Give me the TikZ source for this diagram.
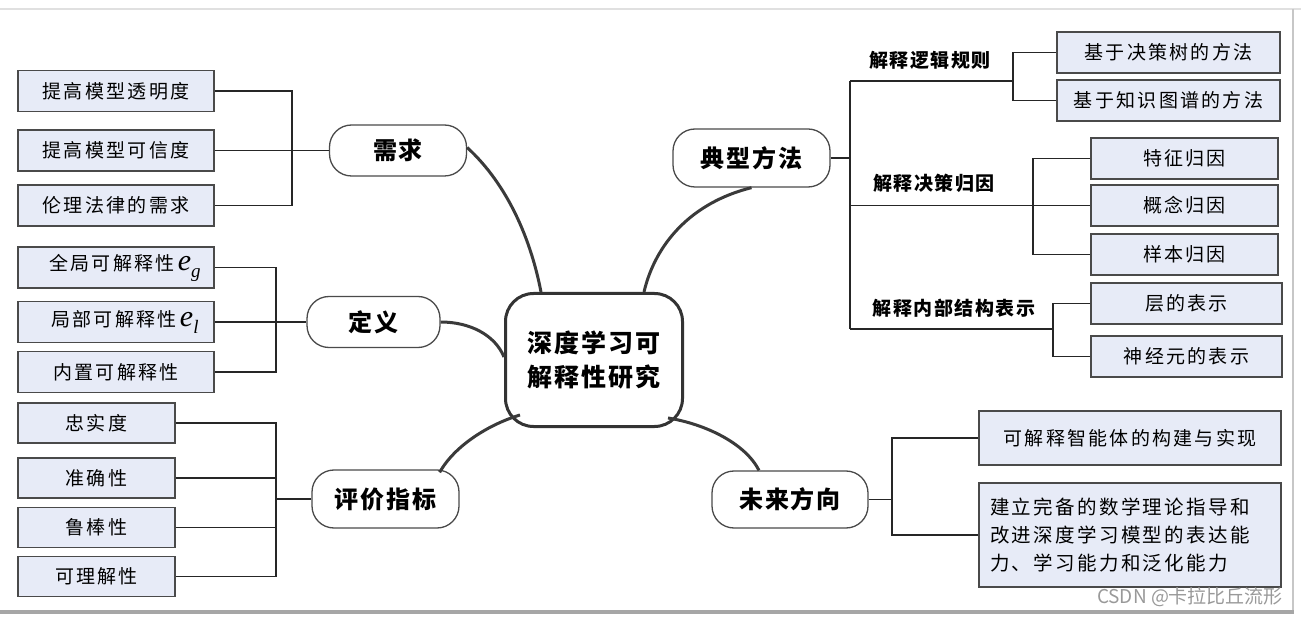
\documentclass[tikz,border=0pt]{standalone}
\usepackage{fontspec}
\setmainfont{Noto Sans CJK SC}
\newfontfamily\boxfont{Noto Sans CJK SC}[LetterSpace=12]
\newfontfamily\hfont{Noto Sans CJK SC}[LetterSpace=8]
\newfontfamily\serifit{Liberation Serif Italic}
\usetikzlibrary{calc}
\definecolor{boxfill}{HTML}{E7EBF7}
\definecolor{boxline}{HTML}{4A4A4A}
\definecolor{curvecol}{HTML}{3A3A3A}
\newcommand{\esub}[1]{{\serifit\fontsize{30}{30}\selectfont e}\raisebox{-7pt}{\serifit\fontsize{19}{19}\selectfont #1}}
\begin{document}
\begin{tikzpicture}[x=1pt,y=-1pt,
 leaf/.style={draw=boxline, fill=boxfill, line width=1.2pt, inner sep=0pt,
   font=\boxfont\fontsize{19}{22}\selectfont, minimum height=41pt},
 topic/.style={draw=boxline, fill=white, line width=1.3pt, rounded corners=22pt,
   inner sep=0pt, font=\hfont\bfseries\fontsize{24}{28}\selectfont},
 sublabel/.style={inner sep=0pt, font=\hfont\bfseries\fontsize{19}{22}\selectfont},
 tie/.style={draw=black!85, line width=1.6pt},
 branch/.style={draw=curvecol, line width=3pt},
]
\useasboundingbox (0,0) rectangle (1301,617);
% frame
\draw[draw=black!12, line width=1.5pt] (0,9) -- (1301,9);
\draw[draw=black!22, line width=1.5pt] (1293,9) -- (1293,612);
\draw[draw=black!35, line width=3.5pt] (0,612) -- (1294,612);

% root
\node[draw=black!80, fill=white, line width=3pt, rounded corners=28pt, inner sep=0pt,
  minimum width=177pt, minimum height=133pt, align=center,
  font=\hfont\bfseries\fontsize{25}{34}\selectfont] (root) at (594,360) {深度学习可\\解释性研究};

% topics
\node[topic, minimum width=137pt, minimum height=51pt] (n1) at (398,150.5) {需求};
\node[topic, minimum width=133pt, minimum height=51pt] (n2) at (373.5,322) {定义};
\node[topic, minimum width=147pt, minimum height=58pt] (n3) at (385.5,499) {评价指标};
\node[topic, minimum width=157pt, minimum height=58pt] (n4) at (751.5,158) {典型方法};
\node[topic, minimum width=156pt, minimum height=57pt] (n5) at (790,499.5) {未来方向};

% left leaves
\node[leaf, minimum width=196pt] (b11) at (116,91) {提高模型透明度};
\node[leaf, minimum width=196pt] (b12) at (116,150.5) {提高模型可信度};
\node[leaf, minimum width=196pt] (b13) at (116,205.5) {伦理法律的需求};
\node[leaf, minimum width=196pt] (b21) at (116,267.5) {\hspace*{18pt}全局可解释性\,\esub{g}};
\node[leaf, minimum width=196pt] (b22) at (116,322) {\hspace*{18pt}局部可解释性\,\esub{l}};
\node[leaf, minimum width=196pt] (b23) at (116,372) {内置可解释性};
\node[leaf, minimum width=157pt, minimum height=40pt] (b31) at (96.5,423) {忠实度};
\node[leaf, minimum width=157pt, minimum height=40pt] (b32) at (96.5,478) {准确性};
\node[leaf, minimum width=157pt, minimum height=40pt] (b33) at (96.5,527.5) {鲁棒性};
\node[leaf, minimum width=157pt, minimum height=40pt] (b34) at (96.5,576.5) {可理解性};

% right leaves
\node[leaf, minimum width=223pt] (r11) at (1168.5,52.5) {基于决策树的方法};
\node[leaf, minimum width=223pt] (r12) at (1168.5,100.5) {基于知识图谱的方法};
\node[leaf, minimum width=187pt] (r21) at (1184.5,158.5) {特征归因};
\node[leaf, minimum width=187pt] (r22) at (1184.5,205.5) {概念归因};
\node[leaf, minimum width=187pt] (r23) at (1184.5,254.5) {样本归因};
\node[leaf, minimum width=191pt] (r31) at (1186.5,303.5) {层的表示};
\node[leaf, minimum width=191pt] (r32) at (1186.5,356.5) {神经元的表示};
\node[leaf, minimum width=302pt, minimum height=54pt] (f1) at (1130,438) {可解释智能体的构建与实现};
\node[leaf, minimum width=302pt, minimum height=104pt, text width=280pt, align=left,
  font=\boxfont\fontsize{19.5}{28}\selectfont] (f2) at (1130,535)
  {建立完备的数学理论指导和\\改进深度学习模型的表达能\\力、学习能力和泛化能力};

% sub labels
\node[sublabel] (L1) at (930,60) {解释逻辑规则};
\node[sublabel] (L2) at (934,183) {解释决策归因};
\node[sublabel] (L3) at (954,308) {解释内部结构表示};

% junction coordinates
\coordinate (j1) at (292,150.5);
\coordinate (j2) at (276,322);
\coordinate (j3) at (276,499);
\coordinate (k1) at (850,81);
\coordinate (k2) at (850,205.5);
\coordinate (k3) at (850,329);
\coordinate (s1) at (1013,81);
\coordinate (s2) at (1033,205.5);
\coordinate (s3) at (1053,329);
\coordinate (s4) at (892,499.5);

% left brackets
\draw[tie] (b11.east) -- (b11.east -| j1) -- (b13.east -| j1) -- (b13.east);
\draw[tie] (b12.east) -- (n1.west);
\draw[tie] (b21.east) -- (b21.east -| j2) -- (b23.east -| j2) -- (b23.east);
\draw[tie] (b22.east) -- (n2.west);
\draw[tie] (b31.east) -- (b31.east -| j3) -- (b34.east -| j3) -- (b34.east);
\draw[tie] (b32.east) -- (b32.east -| j3);
\draw[tie] (b33.east) -- (b33.east -| j3);
\draw[tie] (n3.west) -- (j3);

% right brackets
\draw[tie] (n4.east) -- (n4.east -| k1);
\draw[tie] (k1) -- (k3);
\draw[tie] (k1) -- (s1);
\draw[tie] (r11.west) -- (r11.west -| s1) -- (r12.west -| s1) -- (r12.west);
\draw[tie] (k2) -- (r22.west);
\draw[tie] (r21.west) -- (r21.west -| s2) -- (r23.west -| s2) -- (r23.west);
\draw[tie] (k3) -- (s3);
\draw[tie] (r31.west) -- (r31.west -| s3) -- (r32.west -| s3) -- (r32.west);
\draw[tie] (n5.east) -- (s4);
\draw[tie] (f1.west) -- (f1.west -| s4) -- (f2.west -| s4) -- (f2.west);

% main branches
\draw[branch] ([xshift=-53pt]root.north) .. controls (531,240) and (508,185) .. ([yshift=3pt]n1.east);
\draw[branch] ([yshift=3pt]root.west) .. controls (495,335) and (470,322) .. (n2.east);
\draw[branch] ([xshift=-74pt,yshift=-55pt]root.center) .. controls (490,424) and (455,445) .. ([xshift=-20pt,yshift=-3pt]n3.north east);
\draw[branch] ([xshift=50pt]root.north) .. controls (655,245) and (690,203) .. (n4.south);
\draw[branch] ([xshift=74pt,yshift=-58pt]root.center) .. controls (705,424) and (745,443) .. ([xshift=-31pt]n5.north);

% watermark
\node[inner sep=0pt, text=black!40, font=\fontsize{19}{22}\selectfont] (wm) at (1190,597) {CSDN @卡拉比丘流形};
\end{tikzpicture}
\end{document}
